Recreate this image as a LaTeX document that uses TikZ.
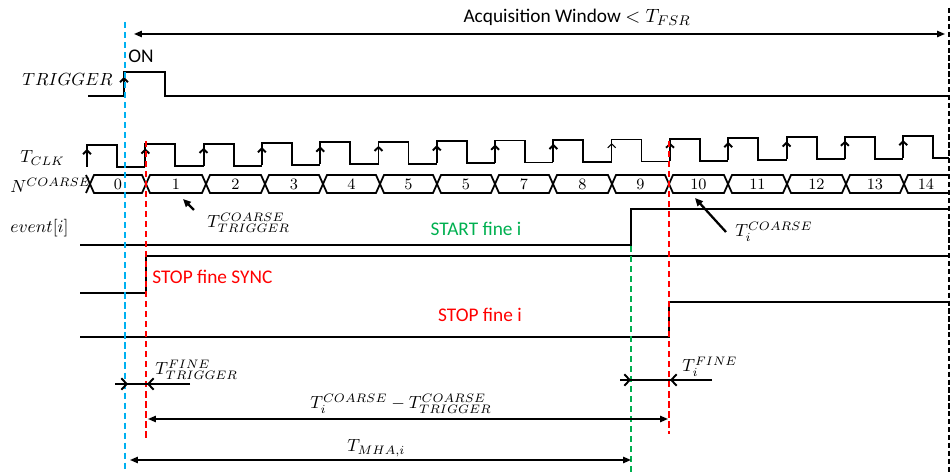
\documentclass[tikz,border=0pt]{standalone}
\usepackage{fontspec}
\setmainfont{Carlito}
\usetikzlibrary{arrows.meta}
\definecolor{cblue}{HTML}{00B0F0}
\definecolor{cred}{HTML}{FF0000}
\definecolor{cgreen}{HTML}{00B050}
\begin{document}
\begin{tikzpicture}[x=0.02cm,y=-0.02cm,
  sig/.style={line width=1.1pt, line join=miter},
  bus/.style={line width=1pt, line join=miter},
  vline/.style={line width=1.3pt, dash pattern=on 3.5pt off 2.2pt},
  lbl/.style={font=\fontsize{10}{12}\selectfont, inner sep=0pt},
  txt/.style={font=\fontsize{11}{13}\selectfont, inner sep=0pt},
  num/.style={font=\fontsize{9}{10}\selectfont, inner sep=0pt},
  dimarrow/.style={line width=0.9pt, {Triangle[length=4.5pt,width=3.6pt]}-{Triangle[length=4.5pt,width=3.6pt]}},
  pointer/.style={line width=1.3pt, -{Triangle[length=4.5pt,width=4pt]}},
  edgearrow/.style={-{Straight Barb[length=2.2pt,width=4.5pt]}},
  chev/.style={line width=1.1pt, -{Straight Barb[length=3pt,width=6.5pt]}},
]
\useasboundingbox (0,0) rectangle (951,472);

% ---------- labels on the left ----------
\node[lbl, anchor=base west] (trig) at (22,86) {$TRIGGER$};
\node[lbl, anchor=base west] (tclk) at (20,163) {$T_{CLK}$};
\node[lbl, anchor=base west] (ncoarse) at (10,193) {$N^{COARSE}$};
\node[lbl, anchor=base west] (event) at (10,233) {$event[i]$};

% ---------- acquisition window ----------
\node[txt, anchor=base] (acq) at (577,23) {Acquisition Window $< T_{FSR}$};
\coordinate (acqL) at (134,34);
\coordinate (acqR) at (945,34);
\draw[dimarrow] (acqL) -- (acqR);

% ---------- trigger ----------
\node[txt, anchor=base west] (on) at (128,63) {ON};
\draw[sig] (88,96) -- (124,96) -- (124,72) -- (165,72) -- (165,96) -- (949,96);
\draw[sig, edgearrow] (124,96) -- (124,77);

% ---------- clock ----------
\foreach \k in {0,...,14}{
  \pgfmathsetmacro\r{87+58.3*\k}
  \pgfmathsetmacro\f{\r+30}
  \pgfmathsetmacro\n{min(\r+58.3,949)}
  \pgfmathsetmacro\h{145-0.011*(\r-87)}
  \pgfmathsetmacro\l{\h+22}
  \ifnum\k=9 \def\w{0.6pt}\else\def\w{1.1pt}\fi
  \draw[line width=\w, line join=miter] (\r,\l) -- (\r,\h) -- (\f,\h) -- (\f,\l) -- (\n,\l);
  \draw[line width=\w, edgearrow] (\r,\l) -- (\r,\h+4);
}

% ---------- coarse counter bus ----------
\draw[bus] (86,175) -- (90,184) -- (86,193);
\foreach \a/\b/\t [count=\i] in {90/146/0,146/206/1,206/265/2,265/323/3,323/380/4,380/437/5,437/495/5,495/553/7,553/612/8,612/669/9,669/728/10,728/787/11,787/846/12,846/904/13}{
  \draw[bus] (\a,184) -- (\a+4,175) -- (\b-4,175) -- (\b,184) -- (\b-4,193) -- (\a+4,193) -- cycle;
  \node[num] (n\i) at ({(\a+\b)/2},184) {$\t$};
}
\draw[bus] (949,175) -- (908,175) -- (904,184) -- (908,193) -- (949,193);
\node[num] (n15) at (926,184) {$14$};

% ---------- event signals ----------
\draw[sig] (80,245) -- (631,245) -- (631,209) -- (949,209);
\draw[sig] (80,293) -- (146,293) -- (146,256) -- (949,256);
\draw[sig] (80,337) -- (669,337) -- (669,302) -- (949,302);

\node[txt, anchor=base, text=cgreen] (startfine) at (476,236) {START fine i};
\node[txt, anchor=base west, text=cred] (stopsync) at (152,284) {STOP fine SYNC};
\node[txt, anchor=base, text=cred] (stopfine) at (480,322) {STOP fine i};

% ---------- coarse annotations ----------
\node[lbl, anchor=base west] (tctrig) at (207,228) {$T^{COARSE}_{TRIGGER}$};
\coordinate (tctrigTip) at (183,199);
\draw[pointer] (194,210) -- (tctrigTip);
\node[lbl, anchor=base west] (tci) at (735,237) {$T_i^{COARSE}$};
\coordinate (tciTip) at (695,198);
\draw[pointer] (726,232) -- (tciTip);

% ---------- dashed time markers ----------
\coordinate (blueT) at (125,22);   \coordinate (blueB) at (125,472);
\coordinate (red1T) at (146,141);  \coordinate (red1B) at (146,440);
\coordinate (red2T) at (669,141);  \coordinate (red2B) at (669,434);
\coordinate (greenT) at (631,246); \coordinate (greenB) at (631,472);
\coordinate (blackT) at (949,8);   \coordinate (blackB) at (949,472);
\draw[vline, cblue] (blueT) -- (blueB);
\draw[vline, cred] (red1T) -- (red1B);
\draw[vline, cred] (red2T) -- (red2B);
\draw[vline, cgreen] (greenT) -- (greenB);
\draw[line width=0.9pt, dash pattern=on 3pt off 1.5pt] (blackT) -- (blackB);

% ---------- fine trigger ----------
\node[lbl, anchor=base west] (tftrig) at (155,375) {$T^{FINE}_{TRIGGER}$};
\draw[line width=1.1pt] (115,384) -- (190,384);
\draw[chev] (115,384) -- (128,384);
\draw[chev] (190,384) -- (147,384);

% ---------- fine i ----------
\node[lbl, anchor=base west] (tfi) at (682,372) {$T_i^{FINE}$};
\draw[line width=1.1pt] (620,380) -- (712,380);
\draw[chev] (620,380) -- (631,380);
\draw[chev] (712,380) -- (670,380);

% ---------- coarse difference ----------
\node[lbl, anchor=base west] (tdiff) at (310,409) {$T_i^{COARSE} - T^{COARSE}_{TRIGGER}$};
\coordinate (diffL) at (148,419);
\coordinate (diffR) at (668,419);
\draw[dimarrow] (diffL) -- (diffR);

% ---------- MHA ----------
\node[lbl, anchor=base west] (tmha) at (347,452) {$T_{MHA,i}$};
\coordinate (mhaL) at (130,460);
\coordinate (mhaR) at (631,460);
\draw[dimarrow] (mhaL) -- (mhaR);
\end{tikzpicture}
\end{document}
